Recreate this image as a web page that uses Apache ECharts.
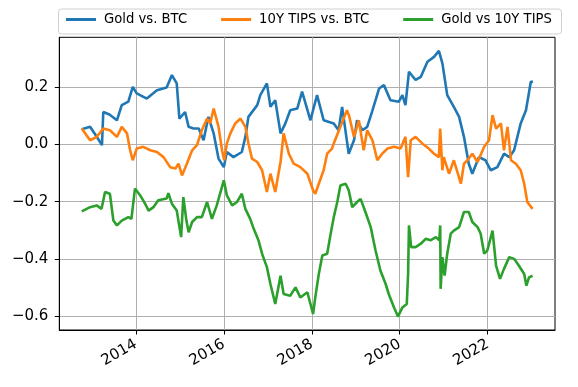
<!DOCTYPE html>
<html><head><meta charset="utf-8">
<script src="https://cdn.jsdelivr.net/npm/echarts@6/dist/echarts.min.js"></script>
<style>html,body{margin:0;padding:0;background:#fff}#c{width:578px;height:387px}</style>
</head><body><div id="c"></div>
<script>
const seriesNames = ['Gold vs. BTC', '10Y TIPS vs. BTC', 'Gold vs 10Y TIPS'];
const xTicks = [2014, 2016, 2018, 2020, 2022];
const yTicks = [-0.6, -0.4, -0.2, 0.0, 0.2];

const goldBtcX = [2012.77,2012.96,2013.1,2013.23,2013.26,2013.4,2013.57,2013.68,2013.83,2013.93,2014.02,2014.25,2014.48,2014.7,2014.82,2014.93,2014.99,2015.12,2015.2,2015.31,2015.43,2015.54,2015.65,2015.77,2015.88,2016.0,2016.07,2016.22,2016.41,2016.49,2016.56,2016.76,2016.83,2016.98,2017.06,2017.17,2017.29,2017.4,2017.51,2017.67,2017.78,2017.97,2018.12,2018.27,2018.5,2018.61,2018.69,2018.84,2018.96,2019.03,2019.15,2019.26,2019.38,2019.53,2019.64,2019.79,2019.98,2020.06,2020.13,2020.21,2020.36,2020.48,2020.63,2020.78,2020.89,2020.97,2021.08,2021.23,2021.35,2021.46,2021.57,2021.65,2021.8,2021.95,2022.07,2022.22,2022.37,2022.49,2022.6,2022.75,2022.87,2022.98,2023.03];
const goldBtcY = [0.054,0.062,0.03,-0.002,0.114,0.105,0.085,0.138,0.15,0.202,0.179,0.161,0.19,0.2,0.243,0.214,0.091,0.114,0.062,0.056,0.056,0.015,0.097,0.039,-0.049,-0.079,-0.026,-0.044,-0.026,0.027,0.097,0.138,0.173,0.214,0.132,0.155,0.039,0.074,0.12,0.126,0.185,0.085,0.173,0.085,0.074,0.05,0.132,-0.032,0.015,0.085,0.05,0.062,0.12,0.196,0.208,0.155,0.15,0.173,0.138,0.255,0.226,0.237,0.29,0.307,0.328,0.284,0.173,0.132,0.097,0.027,-0.067,-0.102,-0.044,-0.055,-0.09,-0.079,-0.032,-0.044,-0.02,0.074,0.12,0.22,0.22];

const tipsBtcX = [2012.77,2012.96,2013.11,2013.26,2013.41,2013.57,2013.68,2013.8,2013.87,2013.93,2014.02,2014.17,2014.33,2014.48,2014.63,2014.78,2014.9,2014.97,2015.05,2015.16,2015.28,2015.39,2015.5,2015.62,2015.69,2015.77,2015.88,2015.96,2016.01,2016.07,2016.15,2016.26,2016.38,2016.49,2016.56,2016.64,2016.76,2016.87,2016.98,2017.06,2017.17,2017.29,2017.36,2017.48,2017.59,2017.74,2017.9,2018.03,2018.08,2018.16,2018.27,2018.35,2018.46,2018.5,2018.65,2018.8,2018.85,2018.96,2019.07,2019.18,2019.26,2019.38,2019.49,2019.6,2019.72,2019.87,2020.02,2020.13,2020.19,2020.25,2020.36,2020.51,2020.66,2020.78,2020.89,2020.92,2020.97,2021.0,2021.12,2021.23,2021.39,2021.46,2021.54,2021.65,2021.77,2021.92,2022.03,2022.11,2022.19,2022.3,2022.37,2022.45,2022.53,2022.64,2022.75,2022.83,2022.9,2023.02];
const tipsBtcY = [0.056,0.015,0.027,0.056,0.05,0.027,0.062,0.039,-0.02,-0.055,-0.014,-0.008,-0.02,-0.026,-0.044,-0.079,-0.084,-0.067,-0.108,-0.067,-0.02,-0.002,0.05,0.091,0.074,0.126,0.062,-0.02,-0.055,0.004,0.039,0.074,0.091,0.062,0.004,-0.049,-0.061,-0.09,-0.166,-0.102,-0.166,-0.061,0.039,-0.032,-0.067,-0.079,-0.102,-0.16,-0.172,-0.137,-0.09,-0.032,-0.014,0.004,0.062,0.12,0.1,0.027,0.085,-0.02,0.05,0.015,-0.055,-0.032,-0.014,-0.008,-0.014,0.027,-0.114,0.015,0.027,0.004,-0.014,-0.032,-0.044,0.056,-0.09,-0.044,-0.102,-0.055,-0.137,-0.067,-0.055,-0.032,-0.061,-0.008,0.015,0.103,0.056,0.074,-0.02,0.062,-0.055,-0.067,-0.09,-0.137,-0.201,-0.225];

const goldTipsX = [2012.77,2012.96,2013.11,2013.22,2013.3,2013.41,2013.49,2013.57,2013.68,2013.83,2013.9,2013.98,2014.1,2014.21,2014.29,2014.4,2014.51,2014.7,2014.74,2014.82,2014.93,2015.03,2015.08,2015.15,2015.2,2015.28,2015.39,2015.5,2015.62,2015.73,2015.84,2016.0,2016.07,2016.19,2016.3,2016.41,2016.49,2016.6,2016.68,2016.79,2016.87,2016.98,2017.06,2017.17,2017.29,2017.36,2017.51,2017.63,2017.74,2017.9,2017.97,2018.03,2018.08,2018.16,2018.24,2018.35,2018.43,2018.5,2018.58,2018.65,2018.77,2018.84,2018.92,2019.03,2019.11,2019.22,2019.34,2019.45,2019.56,2019.68,2019.75,2019.87,2019.96,2020.06,2020.16,2020.19,2020.21,2020.26,2020.36,2020.48,2020.59,2020.7,2020.82,2020.9,2020.92,2020.93,2020.97,2021.02,2021.08,2021.16,2021.23,2021.35,2021.46,2021.57,2021.65,2021.77,2021.84,2021.92,2021.99,2022.11,2022.19,2022.28,2022.37,2022.49,2022.6,2022.71,2022.83,2022.88,2022.94,2023.02];
const goldTipsY = [-0.234,-0.219,-0.213,-0.225,-0.166,-0.172,-0.266,-0.283,-0.266,-0.254,-0.26,-0.154,-0.178,-0.207,-0.231,-0.219,-0.195,-0.189,-0.17,-0.207,-0.231,-0.324,-0.184,-0.266,-0.307,-0.271,-0.254,-0.254,-0.201,-0.26,-0.213,-0.125,-0.178,-0.213,-0.201,-0.172,-0.225,-0.26,-0.295,-0.336,-0.382,-0.429,-0.488,-0.558,-0.459,-0.523,-0.529,-0.5,-0.535,-0.517,-0.558,-0.593,-0.535,-0.453,-0.388,-0.382,-0.312,-0.254,-0.201,-0.143,-0.137,-0.16,-0.219,-0.201,-0.19,-0.236,-0.289,-0.371,-0.441,-0.488,-0.523,-0.57,-0.602,-0.57,-0.558,-0.453,-0.283,-0.359,-0.359,-0.347,-0.33,-0.335,-0.324,-0.335,-0.283,-0.505,-0.394,-0.459,-0.382,-0.312,-0.301,-0.289,-0.236,-0.236,-0.271,-0.289,-0.312,-0.382,-0.371,-0.301,-0.424,-0.47,-0.435,-0.394,-0.4,-0.424,-0.453,-0.494,-0.465,-0.459];

const colors = ['#1f77b4', '#ff7f0e', '#2ca02c'];
const zip = (xs, ys) => xs.map((x, i) => [x, ys[i]]);
const FONT = 'DejaVu Sans';
const fmtY = v => { const s = Math.abs(v).toFixed(1); return v < -1e-9 ? '\u2212' + s : s; };

const chart = echarts.init(document.getElementById('c'), null, {renderer: 'canvas'});
chart.setOption({
  animation: false,
  backgroundColor: '#fff',
  grid: {left: 59.3, right: 23, top: 37.3, bottom: 57, containLabel: false, outerBoundsMode: 'none',
    show: true, borderColor: '#000', borderWidth: 1, backgroundColor: 'transparent'},
  graphic: [{type: 'rect', shape: {x: 58.5, y: 9, width: 503, height: 25, r: 3},
    style: {fill: 'rgba(255,255,255,0.8)', stroke: '#d0d0d0', lineWidth: 1}, z: 1}],
  legend: {
    data: seriesNames, left: 66, top: 13, itemWidth: 30, itemHeight: 3, itemGap: 34,
    icon: 'rect', padding: 0, z: 5,
    textStyle: {fontFamily: FONT, fontSize: 13.2, color: '#000', padding: [0, 0, 0, 3]}
  },
  xAxis: {
    type: 'value', min: 2012.26, max: 2023.53,
    axisLine: {onZero: false, lineStyle: {color: '#000', width: 1}},
    axisTick: {show: true, length: 4.5, lineStyle: {color: '#000'}, customValues: xTicks},
    axisLabel: {customValues: xTicks, rotate: 30, fontFamily: FONT, fontSize: 15, color: '#000', margin: 13,
      formatter: v => String(Math.round(v))},
    splitLine: {show: true, lineStyle: {color: '#b0b0b0', width: 1}}
  },
  yAxis: {
    type: 'value', min: -0.649, max: 0.3754,
    axisLine: {show: true, onZero: false, lineStyle: {color: '#000', width: 1}},
    axisTick: {show: true, length: 4.5, lineStyle: {color: '#000'}, customValues: yTicks},
    axisLabel: {customValues: yTicks, fontFamily: FONT, fontSize: 15, color: '#000', margin: 11, formatter: fmtY},
    splitLine: {show: true, lineStyle: {color: '#b0b0b0', width: 1}}
  },
  series: [
    {name: seriesNames[0], type: 'line', data: zip(goldBtcX, goldBtcY)},
    {name: seriesNames[1], type: 'line', data: zip(tipsBtcX, tipsBtcY)},
    {name: seriesNames[2], type: 'line', data: zip(goldTipsX, goldTipsY)}
  ].map((s, i) => Object.assign(s, {symbol: 'none', showSymbol: false, color: colors[i],
    lineStyle: {color: colors[i], width: 2.6}, z: 3 + i}))
});
</script></body></html>
